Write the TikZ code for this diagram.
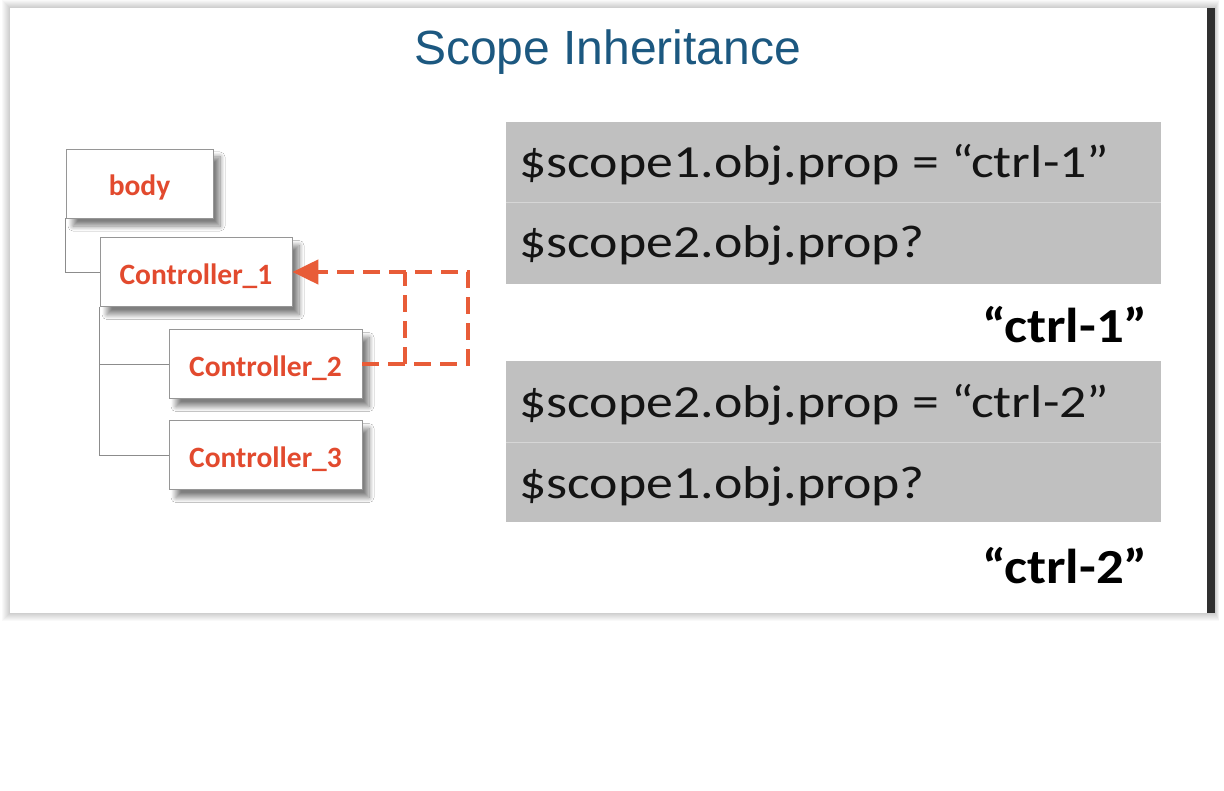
\documentclass[tikz,border=0pt]{standalone}
\usepackage{fontspec}
\setmainfont{Liberation Sans}
\newfontfamily\calfont[FakeStretch=1.17]{Carlito}
\newfontfamily\calbfont[FakeStretch=1.12]{Carlito}
\newfontfamily\labfont{Carlito}
\usetikzlibrary{arrows.meta,shadows.blur}
\definecolor{titleblue}{RGB}{28,88,128}
\definecolor{labred}{RGB}{226,74,46}
\definecolor{arrorange}{RGB}{232,92,56}
\definecolor{rowgray}{RGB}{192,192,192}
\definecolor{sepgray}{RGB}{214,214,214}
\definecolor{boxline}{RGB}{150,150,150}
\definecolor{treeline}{RGB}{140,140,140}
\definecolor{barcol}{RGB}{48,48,48}
\definecolor{codeblack}{RGB}{20,20,20}
\begin{document}
\begin{tikzpicture}[x=1pt,y=-1pt,
  treebox/.style={draw=boxline, line width=0.8pt, fill=white, minimum height=69pt,
    inner sep=0pt, text height=25pt, text depth=0pt,
    font=\labfont\bfseries\fontsize{29.5}{34}\selectfont, text=labred,
    blur shadow={shadow xshift=7pt, shadow yshift=-8pt, shadow blur steps=10,
      shadow blur radius=5pt, shadow opacity=50}},
  treeline/.style={draw=treeline, line width=0.8pt},
  rowbox/.style={fill=rowgray, draw=none, minimum width=655pt, inner sep=0pt},
  sepline/.style={draw=sepgray, line width=1.2pt},
  codetext/.style={font=\calfont\fontsize{46}{52}\selectfont, text=codeblack, inner sep=0pt},
  answer/.style={font=\calbfont\bfseries\fontsize{49}{54}\selectfont, text=black, inner sep=0pt},
  dasharrow/.style={draw=arrorange, line width=4.5pt, dash pattern=on 17pt off 9pt},
  titletext/.style={font=\fontsize{48}{54}\selectfont, text=titleblue, inner sep=0pt}
]
\useasboundingbox (0,0) rectangle (1224,791);
\fill[white] (0,0) rectangle (1224,791);
% slide shadow
\foreach \i in {1,...,8}
  \fill[black, opacity=0.025] (10-\i,8-\i) rectangle (1215+0.5*\i,613+\i);
\fill[white] (10,8) rectangle (1207,613);
\fill[barcol] (1207,8) rectangle (1215,613);

% title
\node[titletext, anchor=base] (title) at (607.5,65) {Scope Inheritance};

% tree
\node[treebox, minimum width=147pt] (body) at (139.5,183.5) {body};
\node[treebox, minimum width=192pt] (c1) at (196,272) {Controller\_1};
\node[treebox, minimum width=193pt] (c2) at (265.5,364) {Controller\_2};
\node[treebox, minimum width=193pt] (c3) at (265.5,455) {Controller\_3};
\draw[treeline] (body.south west) |- (c1.west);
\draw[treeline] (c1.south west) |- (c2.west);
\draw[treeline] (c1.south west) |- (c3.west);

% dashed arrow
\coordinate (bi) at (405,364);
\coordinate (ti) at (405,272);
\coordinate (bo) at (468,364);
\coordinate (to) at (468,272);
\draw[dasharrow] (bi) -- (ti);
\draw[dasharrow, -{Triangle[length=26pt,width=24pt]}] (c2.east) -- (bo) -- (to) -- (c1.east);

% right blocks
\node[rowbox, minimum height=80pt] (r1) at (833.5,162) {};
\node[rowbox, minimum height=81pt] (r2) at (833.5,243.5) {};
\draw[sepline] (r1.south west) -- (r1.south east);
\node[rowbox, minimum height=81pt] (r3) at (833.5,401.5) {};
\node[rowbox, minimum height=80pt] (r4) at (833.5,482) {};
\draw[sepline] (r3.south west) -- (r3.south east);

\node[codetext, anchor=base west] (t1) at (519,178) {\$scope1.obj.prop = “ctrl-1”};
\node[codetext, anchor=base west] (t2) at (519,258) {\$scope2.obj.prop?};
\node[codetext, anchor=base west] (t3) at (519,418) {\$scope2.obj.prop = “ctrl-2”};
\node[codetext, anchor=base west] (t4) at (519,498) {\$scope1.obj.prop?};

\node[answer, anchor=base east] (a1) at (1148,343) {“ctrl-1”};
\node[answer, anchor=base east] (a2) at (1148,583) {“ctrl-2”};
\end{tikzpicture}
\end{document}
